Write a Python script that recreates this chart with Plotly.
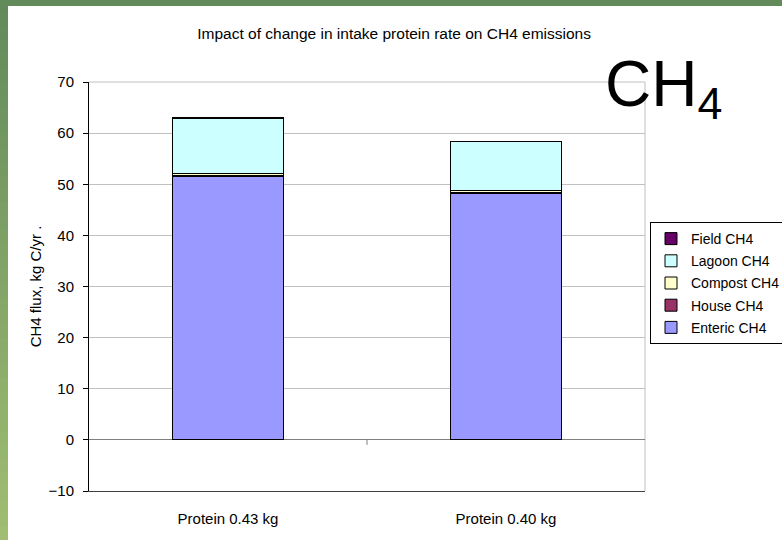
import plotly.graph_objects as go

# Scenario labels and stacked CH4 source contributions (kg C/yr)
categories = ["Protein 0.43 kg", "Protein 0.40 kg"]
enteric = [51.6, 48.2]
house = [0.15, 0.15]
compost = [0.35, 0.35]
lagoon = [10.8, 9.6]
field = [0.1, 0.1]

series_names = ["Enteric CH4", "House CH4", "Compost CH4", "Lagoon CH4", "Field CH4"]
series_values = [enteric, house, compost, lagoon, field]
series_colors = ["#9999FF", "#993366", "#FFFFCC", "#CCFFFF", "#660066"]

y_ticks = [-10, 0, 10, 20, 30, 40, 50, 60, 70]

FONT = "Arial, Liberation Sans, sans-serif"

fig = go.Figure()
n_series = len(series_names)
for i, (name, vals, col) in enumerate(zip(series_names, series_values, series_colors)):
    fig.add_trace(go.Bar(
        x=categories, y=vals, name=name, legendgroup=name,
        legendrank=n_series - i,
        marker=dict(color=col, line=dict(color="black", width=1)),
        width=0.4,
    ))

# plot-area pixel geometry
L, R, T, B = 89, 645, 82, 491
W, H = 782, 540
pw, ph = R - L, B - T


def px_x(p):
    return (p - L) / pw


def px_y(p):
    return (B - p) / ph


shapes = []
# slide background strips (green gradient down the left edge, flat green top)
top_col = (98, 138, 90)
bot_col = (160, 189, 114)
n = 40
for i in range(n):
    f = i / (n - 1)
    c = tuple(int(round(a + (b - a) * f)) for a, b in zip(top_col, bot_col))
    y0 = i * H / n
    y1 = (i + 1) * H / n + 1
    shapes.append(dict(type="rect", xref="paper", yref="paper", layer="below",
                       x0=px_x(0), x1=px_x(8), y0=px_y(y1), y1=px_y(y0),
                       fillcolor="rgb(%d,%d,%d)" % c, line=dict(width=0)))
shapes.append(dict(type="rect", xref="paper", yref="paper", layer="below",
                   x0=px_x(0), x1=px_x(W), y0=px_y(6), y1=px_y(0),
                   fillcolor="rgb(98,138,90)", line=dict(width=0)))
# plot-area border (top / right in light gray)
shapes.append(dict(type="line", xref="paper", yref="paper", layer="below",
                   x0=0, x1=1, y0=1, y1=1, line=dict(color="#C0C0C0", width=1)))
shapes.append(dict(type="line", xref="paper", yref="paper", layer="below",
                   x0=1, x1=1, y0=0, y1=1, line=dict(color="#C0C0C0", width=1)))
# category-boundary tick on the zero line
shapes.append(dict(type="line", xref="x", yref="y", ysizemode="pixel", yanchor=0,
                   x0=0.5, x1=0.5, y0=0, y1=-5, line=dict(color="#808080", width=1)))

fig.update_layout(
    width=W, height=H,
    margin=dict(l=L, r=W - R, t=T, b=H - B, autoexpand=False),
    paper_bgcolor="white", plot_bgcolor="white",
    barmode="stack",
    font=dict(family=FONT, color="black", size=15),
    title=dict(text="Impact of change in intake protein rate on CH4 emissions",
               x=0.504, xanchor="center", y=1 - 34 / H, yanchor="middle",
               font=dict(family=FONT, size=15.5, color="black")),
    showlegend=True,
    legend=dict(x=px_x(650), xanchor="left", y=px_y(222), yanchor="top",
                traceorder="grouped", tracegroupgap=1,
                bgcolor="white", bordercolor="black", borderwidth=1,
                font=dict(family=FONT, size=14, color="black")),
    xaxis=dict(range=[-0.5, 1.5], showgrid=False, showline=True,
               linecolor="#404040", linewidth=1, ticks="outside", ticklen=0,
               ticklabelstandoff=14, tickfont=dict(size=15)),
    yaxis=dict(range=[-10, 70], tickvals=y_ticks, showgrid=True,
               gridcolor="#C0C0C0", gridwidth=1,
               zeroline=True, zerolinecolor="#808080", zerolinewidth=1,
               showline=True, linecolor="black", linewidth=1,
               ticks="outside", ticklen=5, tickcolor="black",
               ticklabelstandoff=6, tickfont=dict(size=15),
               title=dict(text="CH4 flux, kg C/yr .", standoff=3,
                          font=dict(size=15))),
    shapes=shapes,
    annotations=[dict(text="CH<sub>4</sub>", xref="paper", yref="paper",
                      x=px_x(603), y=px_y(46), xanchor="left", yanchor="top",
                      showarrow=False,
                      font=dict(family=FONT, size=64, color="black"))],
)

fig.write_html("out.html")
